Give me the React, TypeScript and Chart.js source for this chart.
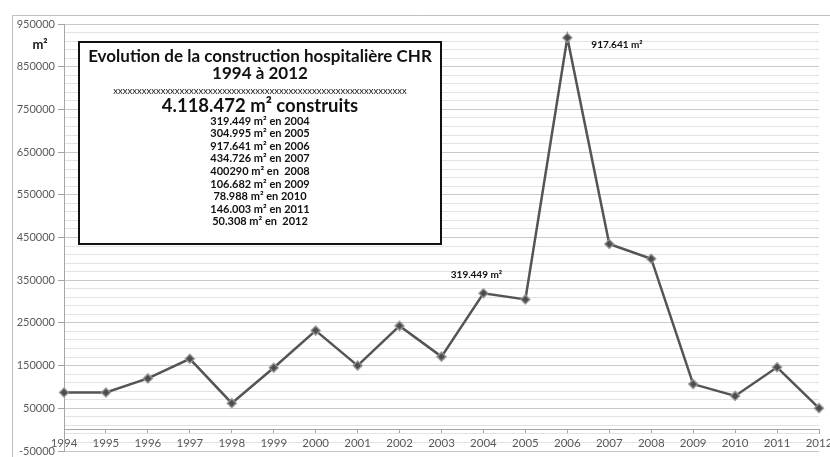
import React, { useEffect, useRef } from "react";
import { Chart, registerables } from "chart.js";

Chart.register(...registerables);

const years = ["1994","1995","1996","1997","1998","1999","2000","2001","2002","2003","2004","2005","2006","2007","2008","2009","2010","2011","2012"];
const surfaces = [87000, 87000, 120000, 166000, 62000, 145000, 232000, 150000, 243000, 171000, 319449, 304995, 917641, 434726, 400290, 106682, 78988, 146003, 50308];

const boxTitle = ["Evolution de la construction hospitalière CHR", "1994 à 2012"];
const boxTotal = "4.118.472 m² construits";
const boxLines = [
  "319.449 m² en 2004",
  "304.995 m² en 2005",
  "917.641 m² en 2006",
  "434.726 m² en 2007",
  "400290 m² en  2008",
  "106.682 m² en 2009",
  "78.988 m² en 2010",
  "146.003 m² en 2011",
  "50.308 m² en  2012",
];
const pointNotes = [
  { index: 12, text: "917.641 m²", dx: 24, dy: 7, align: "left" },
  { index: 10, text: "319.449 m²", dx: -7, dy: -18, align: "center" },
];
const unitLabel = "m²";

const FONT = "Lato, 'Open Sans', sans-serif";

const decor = {
  id: "decor",
  beforeDraw(chart: any) {
    const ctx = chart.ctx;
    ctx.save();
    ctx.fillStyle = "#ffffff";
    ctx.fillRect(0, 0, chart.width, chart.height);
    ctx.strokeStyle = "#bfbfbf";
    ctx.lineWidth = 1;
    ctx.beginPath();
    ctx.moveTo(12.5, chart.height);
    ctx.lineTo(12.5, 15.5);
    ctx.lineTo(chart.width, 15.5);
    ctx.stroke();
    ctx.restore();
  },
  afterDatasetsDraw(chart: any) {
    const ctx = chart.ctx;
    ctx.save();
    ctx.fillStyle = "#1a1a1a";
    ctx.font = `bold 13px ${FONT}`;
    ctx.textAlign = "center";
    ctx.textBaseline = "middle";
    ctx.fillText(unitLabel, 40, 45);

    const bx = 79, by = 42, bw = 362, bh = 202;
    ctx.fillStyle = "#ffffff";
    ctx.fillRect(bx, by, bw, bh);
    ctx.strokeStyle = "#111111";
    ctx.lineWidth = 2;
    ctx.strokeRect(bx, by, bw, bh);
    const cx = bx + bw / 2;
    ctx.fillStyle = "#111111";
    ctx.font = `bold 17px ${FONT}`;
    ctx.fillText(boxTitle[0], cx, 57);
    ctx.fillText(boxTitle[1], cx, 74);
    ctx.font = `9.5px ${FONT}`;
    const xs = "x".repeat(62);
    ctx.fillText(xs, cx, 91);
    ctx.font = `bold 18.5px ${FONT}`;
    ctx.fillText(boxTotal, cx, 106);
    ctx.font = `bold 11px ${FONT}`;
    boxLines.forEach((t, i) => ctx.fillText(t, cx, 121 + i * 12.6));

    const meta = chart.getDatasetMeta(0);
    ctx.font = `bold 10px ${FONT}`;
    pointNotes.forEach((n) => {
      const p = meta.data[n.index];
      ctx.textAlign = n.align;
      ctx.fillText(n.text, p.x + n.dx, p.y + n.dy);
    });
    ctx.restore();
  },
};

export default function App() {
  const ref = useRef<HTMLCanvasElement>(null);
  useEffect(() => {
    const chart = new Chart(ref.current!, {
      type: "line",
      data: {
        labels: years,
        datasets: [
          {
            data: surfaces,
            borderColor: "#555555",
            borderWidth: 2.5,
            pointStyle: "rectRot",
            pointRadius: 4.5,
            pointBackgroundColor: "#4d4d4d",
            pointBorderColor: "rgba(150,150,150,0.85)",
            pointBorderWidth: 1.5,
            tension: 0,
          },
        ],
      },
      options: {
        animation: false,
        responsive: false,
        layout: { padding: { top: 24, right: 11, bottom: 4, left: 0 } },
        plugins: { legend: { display: false }, tooltip: { enabled: false } },
        scales: {
          x: {
            type: "category",
            position: { y: 0 },
            offset: false,
            grid: {
              display: true,
              drawOnChartArea: false,
              drawTicks: true,
              tickLength: 4,
              tickColor: "#a6a6a6",
            },
            border: { display: true, color: "#a6a6a6", width: 1 },
            ticks: {
              color: "#595959",
              font: { family: FONT, size: 11.5 },
              padding: 3,
              maxRotation: 0,
              autoSkip: false,
            },
            afterFit(s: any) {
              s.paddingLeft = 0;
              s.paddingRight = 0;
            },
          },
          y: {
            min: -50000,
            max: 950000,
            ticks: {
              stepSize: 20000,
              autoSkip: false,
              color: "#595959",
              font: { family: FONT, size: 11 },
              padding: 3,
              callback: (v: any) => ((Number(v) + 50000) % 100000 === 0 ? String(v) : ""),
            },
            grid: {
              color: (c: any) =>
                c.tick && (c.tick.value + 50000) % 100000 === 0 ? "#c9c9c9" : "#e3e3e3",
              tickColor: (c: any) =>
                c.tick && (c.tick.value + 50000) % 100000 === 0 ? "#a6a6a6" : "rgba(0,0,0,0)",
              tickLength: 6,
              lineWidth: 1,
            },
            border: { display: true, color: "#a6a6a6" },
            afterFit(s: any) {
              s.width = 64;
              s.paddingTop = 0;
              s.paddingBottom = 0;
            },
          },
        },
      },
      plugins: [decor],
    } as any);
    return () => chart.destroy();
  }, []);
  return (
    <div style={{ position: "absolute", left: 0, top: 0, width: 830, height: 457 }}>
      <canvas ref={ref} width={830} height={457} style={{ display: "block" }} />
    </div>
  );
}
